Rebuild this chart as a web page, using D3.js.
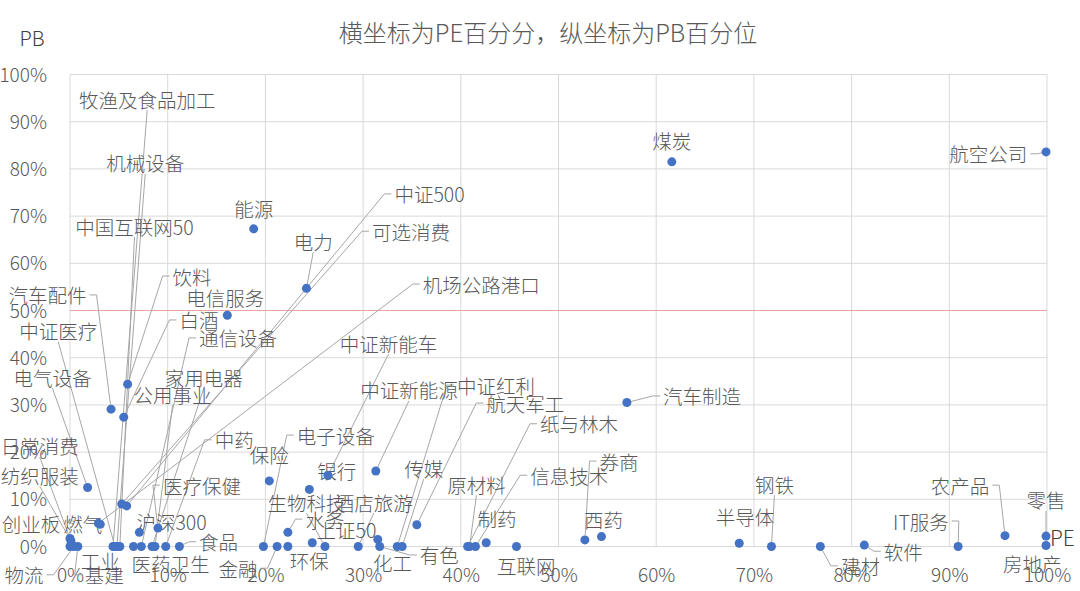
<!DOCTYPE html>
<html>
<head>
<meta charset="utf-8">
<script src="https://cdn.jsdelivr.net/npm/d3@7"></script>
<style>
  body { margin: 0; background: #fff; }
  text { font-family: "Noto Sans CJK SC", "Noto Sans", sans-serif; font-weight: 300; }
</style>
</head>
<body>
<div class="chart"></div>
<script>
// Industry names, PE percentile (x) and PB percentile (y), in %
const names = ["牧渔及食品加工", "机械设备", "中国互联网50", "能源", "中证500", "电力", "可选消费", "饮料",
  "汽车配件", "电信服务", "机场公路港口", "白酒", "中证医疗", "通信设备", "中证新能车", "电气设备",
  "家用电器", "公用事业", "中证新能源", "中证红利", "航天军工", "汽车制造", "纸与林木", "日常消费",
  "中药", "电子设备", "保险", "银行", "信息技术", "券商", "纺织服装", "医疗保健",
  "传媒", "原材料", "农产品", "钢铁", "零售", "生物科技", "酒店旅游", "创业板",
  "燃气", "沪深300", "水务", "上证50", "制药", "西药", "半导体", "IT服务",
  "食品", "工业", "金融", "环保", "化工", "有色", "医药卫生", "基建",
  "物流", "互联网", "建材", "软件", "房地产", "煤炭", "航空公司"];
const pePct = [4.4, 4.8, 5.1, 18.8, 5.8, 24.2, 5.3, 5.9,
  4.2, 16.1, 2.9, 5.5, 4.6, 7.3, 26.4, 1.8,
  8.4, 8.7, 31.3, 33.5, 35.5, 57.0, 40.7, 0.0,
  9.8, 19.8, 20.4, 24.5, 41.5, 52.7, 0.1, 9.0,
  34.0, 40.9, 95.7, 71.8, 99.9, 26.1, 29.5, 0.0,
  3.1, 7.1, 22.3, 24.8, 42.6, 54.4, 68.5, 90.9,
  11.2, 4.5, 21.2, 22.3, 31.5, 31.7, 6.5, 0.8,
  0.4, 45.7, 76.8, 81.3, 99.9, 61.6, 99.9];
const pbPct = [0, 0, 0, 67.3, 8.6, 54.7, 9.0, 34.4,
  29.1, 49.0, 4.9, 27.4, 0, 0, 15.1, 12.5,
  0, 0, 16.0, 0, 4.6, 30.5, 0, 1.7,
  0, 0, 13.9, 12.1, 0, 1.4, 1.2, 3.9,
  0, 0, 2.3, 0, 2.2, 0, 0, 0,
  4.7, 3.0, 3.0, 0.8, 0.8, 2.1, 0.7, 0,
  0, 0, 0, 0, 1.5, 0, 0, 0,
  0, 0, 0, 0.3, 0.2, 81.5, 83.6];

// where each data label sits (centre, in axis units), as placed in the original
const labelAt = [[7.9, 94.8], [7.7, 81.3], [6.6, 67.9], [18.8, 71.7], [36.8, 74.7], [24.9, 64.7], [34.9, 66.8], [12.5, 57.3],
  [-2.3, 53.3], [15.9, 52.8], [42.1, 55.6], [13.2, 48.0], [-1.2, 45.7], [17.2, 44.2], [32.6, 43.1], [-1.8, 35.9],
  [13.7, 35.9], [10.5, 32.3], [34.7, 33.2], [43.6, 34.2], [46.6, 30.4], [64.7, 31.9], [52.1, 26.0], [-3.1, 21.3],
  [16.8, 22.6], [27.2, 23.6], [20.4, 19.4], [27.3, 16.0], [51.1, 15.1], [56.2, 18.1], [-3.1, 15.1], [13.5, 13.0],
  [36.2, 16.6], [41.6, 13.2], [91.1, 13.0], [72.1, 13.2], [99.9, 9.9], [24.2, 9.4], [31.1, 9.4], [-4.0, 4.8],
  [1.3, 4.8], [10.4, 5.2], [26.1, 5.8], [28.3, 3.5], [43.7, 6.0], [54.6, 5.8], [69.1, 6.3], [87.1, 5.4],
  [15.2, 1.0], [3.1, -2.9], [17.2, -4.6], [24.5, -2.9], [33.0, -3.3], [37.8, -1.8], [10.3, -3.5], [3.5, -6.0],
  [-4.7, -6.0], [46.7, -4.1], [80.9, -4.1], [85.3, -1.0], [98.5, -3.5], [61.6, 86.1], [94.0, 83.2]];

const tickValues = [0, 10, 20, 30, 40, 50, 60, 70, 80, 90, 100];
const refLine = 50;

const width = 1080, height = 591;
const margin = { top: 74.5, right: 33, bottom: 44.5, left: 70 };

const svg = d3.select(".chart")
  .append("svg")
  .attr("width", width)
  .attr("height", height);

const x = d3.scaleLinear().domain([0, 100]).range([margin.left, width - margin.right]);
const y = d3.scaleLinear().domain([0, 100]).range([height - margin.bottom, margin.top]);

// Title
svg.append("text")
  .attr("x", 548)
  .attr("y", 31)
  .attr("text-anchor", "middle")
  .attr("dominant-baseline", "central")
  .style("font-size", "24px")
  .style("fill", "#595959")
  .text("横坐标为PE百分分，纵坐标为PB百分位");

// Gridlines
svg.append("g")
  .selectAll("line")
  .data(tickValues)
  .join("line")
  .attr("x1", d => x(d)).attr("x2", d => x(d))
  .attr("y1", y(0)).attr("y2", y(100))
  .attr("stroke", "#d9d9d9");

svg.append("g")
  .selectAll("line")
  .data(tickValues)
  .join("line")
  .attr("x1", x(0)).attr("x2", x(100))
  .attr("y1", d => y(d)).attr("y2", d => y(d))
  .attr("stroke", "#d9d9d9");

// 50% reference line
svg.append("line")
  .attr("x1", x(0)).attr("x2", x(100))
  .attr("y1", y(refLine)).attr("y2", y(refLine))
  .attr("stroke", "#e8a3a3");

// Axis labels
const xAxis = svg.append("g")
  .attr("transform", `translate(0, ${y(0)})`)
  .call(d3.axisBottom(x).tickValues(tickValues).tickFormat(d => d + "%").tickSize(0).tickPadding(22));
const yAxis = svg.append("g")
  .attr("transform", `translate(${x(0)}, 0)`)
  .call(d3.axisLeft(y).tickValues(tickValues).tickFormat(d => d + "%").tickSize(0).tickPadding(23));
[xAxis, yAxis].forEach(a => {
  a.select(".domain").remove();
  a.selectAll("text")
    .style("font-family", "'Noto Sans CJK SC', 'Noto Sans', sans-serif")
    .style("font-weight", "300")
    .style("font-size", "19px")
    .style("fill", "#595959");
});
yAxis.selectAll("text").attr("dy", "0.35em");

svg.append("text")
  .attr("x", 32).attr("y", 37)
  .attr("text-anchor", "middle")
  .attr("dominant-baseline", "central")
  .style("font-size", "20px")
  .style("fill", "#404040")
  .text("PB");

svg.append("text")
  .attr("x", 1050).attr("y", 537)
  .attr("dominant-baseline", "central")
  .style("font-size", "21px")
  .style("fill", "#404040")
  .text("PE");

const points = names.map((n, i) => ({ name: n, pe: pePct[i], pb: pbPct[i], lx: labelAt[i][0], ly: labelAt[i][1] }));

const leaderG = svg.append("g");

// Data labels
const labels = svg.append("g")
  .selectAll("text")
  .data(points)
  .join("text")
  .attr("x", d => x(d.lx))
  .attr("y", d => y(d.ly))
  .attr("text-anchor", "middle")
  .attr("dominant-baseline", "central")
  .style("font-size", "19.5px")
  .style("fill", "#595959")
  .text(d => d.name);

// Leader lines from label edge to its point
const r = 4.5;
labels.each(function (d) {
  const w = this.getComputedTextLength();
  const cx = x(d.lx), cy = y(d.ly);
  const b = { x0: cx - w / 2, x1: cx + w / 2, y0: cy - 10, y1: cy + 10 };
  const px = x(d.pe), py = y(d.pb);
  const gx = px < b.x0 ? b.x0 - px : px > b.x1 ? px - b.x1 : 0;
  const gy = py < b.y0 ? b.y0 - py : py > b.y1 ? py - b.y1 : 0;
  if (Math.hypot(gx, gy) < 17) return;
  let pts;
  if (gx === 0 || gx < gy * 0.12) {
    pts = [[cx, py > b.y1 ? b.y1 + 1 : b.y0 - 1]];
  } else {
    const sx = px < b.x0 ? b.x0 - 3 : b.x1 + 3;
    const st = px < b.x0 ? -7 : 7;
    pts = [[sx, cy], [sx + st, cy]];
  }
  const last = pts[pts.length - 1];
  const len = Math.hypot(px - last[0], py - last[1]);
  pts.push([px - (px - last[0]) / len * r, py - (py - last[1]) / len * r]);
  leaderG.append("path")
    .attr("d", d3.line()(pts))
    .attr("fill", "none")
    .attr("stroke", "#a6a6a6")
    .attr("stroke-width", 1);
});

// Points
svg.append("g")
  .selectAll("circle")
  .data(points)
  .join("circle")
  .attr("cx", d => x(d.pe))
  .attr("cy", d => y(d.pb))
  .attr("r", r)
  .attr("fill", "#4472c4");
</script>
</body>
</html>
